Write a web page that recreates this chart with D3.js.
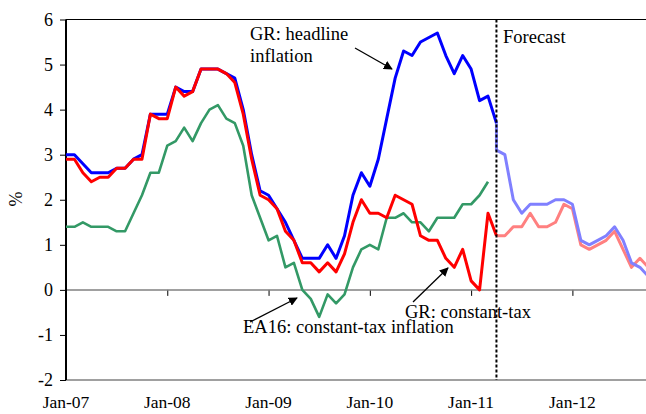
<!DOCTYPE html>
<html><head><meta charset="utf-8">
<script src="https://cdn.jsdelivr.net/npm/d3@7"></script>
<style>body{margin:0;background:#fff}svg{display:block}</style>
</head><body><svg id="c" width="646" height="414"></svg>
<script>
// Month index 0 = Jan-07
const xTickIdx = [0, 12, 24, 36, 48, 60];
const xTickLabels = ["Jan-07", "Jan-08", "Jan-09", "Jan-10", "Jan-11", "Jan-12"];
const yTicks = [-2, -1, 0, 1, 2, 3, 4, 5, 6];

const grHeadline = [3.0,3.0,2.8,2.6,2.6,2.6,2.7,2.7,2.9,3.0,3.9,3.9,3.9,4.5,4.4,4.4,4.9,4.9,4.9,4.8,4.7,4.0,3.0,2.2,2.1,1.8,1.5,1.1,0.7,0.7,0.7,1.0,0.7,1.2,2.1,2.6,2.3,2.9,3.8,4.7,5.3,5.2,5.5,5.6,5.7,5.2,4.8,5.2,4.9,4.2,4.3,3.7];
const grConstTax = [2.9,2.9,2.6,2.4,2.5,2.5,2.7,2.7,2.9,2.9,3.9,3.8,3.8,4.5,4.3,4.4,4.9,4.9,4.9,4.8,4.6,3.9,2.9,2.1,2.0,1.8,1.3,1.1,0.6,0.6,0.4,0.6,0.4,0.8,1.5,2.0,1.7,1.7,1.6,2.1,2.0,1.9,1.2,1.1,1.1,0.7,0.5,0.9,0.2,0.0,1.7,1.2];
const ea16ConstTax = [1.4,1.4,1.5,1.4,1.4,1.4,1.3,1.3,1.7,2.1,2.6,2.6,3.2,3.3,3.6,3.3,3.7,4.0,4.1,3.8,3.7,3.2,2.1,1.6,1.1,1.2,0.5,0.6,0.0,-0.2,-0.6,-0.1,-0.3,-0.1,0.5,0.9,1.0,0.9,1.6,1.6,1.7,1.5,1.5,1.3,1.6,1.6,1.6,1.9,1.9,2.1,2.4];
const forecastStart = 51;
const grHeadlineFc = [3.1,3.0,2.0,1.7,1.9,1.9,1.9,2.0,2.0,1.9,1.1,1.0,1.1,1.2,1.4,1.1,0.6,0.5,0.3];
const grConstTaxFc = [1.2,1.2,1.4,1.4,1.7,1.4,1.4,1.5,1.9,1.8,1.0,0.9,1.0,1.1,1.3,0.9,0.5,0.7,0.5];

const FONT = "'Liberation Serif', Tinos, 'Times New Roman', 'DejaVu Serif', serif";
const svg = d3.select("#c");
const L = 66, R = 646, T = 19.5, B = 380;
const x = d3.scaleLinear().domain([0, 68.72]).range([L, R]);
const y = d3.scaleLinear().domain([-2, 6]).range([B, T]);

svg.append("defs").append("clipPath").attr("id","clip")
  .append("rect").attr("x", L).attr("y", T - 5).attr("width", R - L).attr("height", B - T + 10);

// frame lines
svg.append("line").attr("x1", L).attr("x2", R).attr("y1", T).attr("y2", T).attr("stroke", "#000").attr("stroke-width", 1.2);
svg.append("line").attr("x1", L).attr("x2", R).attr("y1", y(-2)).attr("y2", y(-2)).attr("stroke", "#808080").attr("stroke-width", 1.5);

// zero axis with ticks
const xAxis = d3.axisBottom(x).tickValues(xTickIdx.slice(1)).tickSize(6).tickFormat("");
const gx = svg.append("g").attr("transform", `translate(0,${y(0)})`).call(xAxis);
gx.select(".domain").remove();
gx.selectAll(".tick line").attr("stroke", "#000").attr("stroke-width", 1);
svg.append("line").attr("x1", L).attr("x2", R).attr("y1", y(0)).attr("y2", y(0)).attr("stroke", "#808080").attr("stroke-width", 1.5);

// x labels
svg.append("g").selectAll("text").data(xTickIdx).join("text")
  .attr("x", d => x(d)).attr("y", 408).attr("text-anchor", "middle")
  .attr("font-family", FONT).attr("font-size", 17.5).attr("fill", "#000").text((d, i) => xTickLabels[i]);

// y axis
const yAxis = d3.axisLeft(y).tickValues(yTicks).tickSize(6).tickPadding(7).tickFormat(d => String(d));
const gy = svg.append("g").attr("transform", `translate(${L},0)`).call(yAxis);
gy.attr("font-family", FONT).attr("font-size", 18);
gy.select(".domain").attr("stroke", "#000").attr("stroke-width", 2).attr("d", `M0,${T}V${B}`);
gy.selectAll(".tick line").attr("stroke", "#000");
gy.selectAll(".tick text").attr("fill", "#000");

svg.append("text").attr("transform", "translate(22,199) rotate(-90)").attr("text-anchor", "middle")
  .attr("font-family", FONT).attr("font-size", 18).text("%");

const line = d3.line().x(d => x(d[0])).y(d => y(d[1]));
const hist = arr => arr.map((v, i) => [i, v]);
const fc = (arr, last) => [[forecastStart, last]].concat(arr.map((v, i) => [forecastStart + i, v]));

const gl = svg.append("g").attr("clip-path", "url(#clip)").attr("fill", "none").attr("stroke-linejoin", "round");
gl.append("path").attr("d", line(hist(ea16ConstTax))).attr("stroke", "#339966").attr("stroke-width", 2.6);
gl.append("path").attr("d", line(fc(grConstTaxFc, grConstTax[grConstTax.length-1]))).attr("stroke", "#FF8080").attr("stroke-width", 3);
gl.append("path").attr("d", line(fc(grHeadlineFc, grHeadline[grHeadline.length-1]))).attr("stroke", "#8080FF").attr("stroke-width", 3);
gl.append("path").attr("d", line(hist(grHeadline))).attr("stroke", "#0000FF").attr("stroke-width", 3);
gl.append("path").attr("d", line(hist(grConstTax))).attr("stroke", "#FF0000").attr("stroke-width", 3);

// forecast divider
svg.append("line").attr("x1", x(forecastStart)).attr("x2", x(forecastStart)).attr("y1", T).attr("y2", B)
  .attr("stroke", "#000").attr("stroke-width", 2).attr("stroke-dasharray", "3,2");

// annotations
svg.append("defs").append("marker").attr("id", "ah").attr("viewBox", "0 0 10 10").attr("refX", 9).attr("refY", 5)
  .attr("markerWidth", 9).attr("markerHeight", 9).attr("markerUnits", "userSpaceOnUse").attr("orient", "auto")
  .append("path").attr("d", "M0,0L10,5L0,10z").attr("fill", "#000");
function arrow(x1, y1, x2, y2) {
  svg.append("line").attr("x1", x1).attr("y1", y1).attr("x2", x2).attr("y2", y2)
    .attr("stroke", "#000").attr("stroke-width", 1.3).attr("marker-end", "url(#ah)");
}
const fs = 18.5;
const ann = (tx, ty, s) => svg.append("text").attr("x", tx).attr("y", ty)
  .attr("font-family", FONT).attr("font-size", fs).attr("fill", "#000").text(s);
ann(250, 40, "GR: headline");
ann(250, 62, "inflation");
arrow(355, 48, 392, 69);
ann(503, 43, "Forecast");
ann(405, 318, "GR: constant-tax");
arrow(413, 302, 448, 268);
ann(243, 333, "EA16: constant-tax inflation");
arrow(250, 322, 297, 298);
</script></body></html>
